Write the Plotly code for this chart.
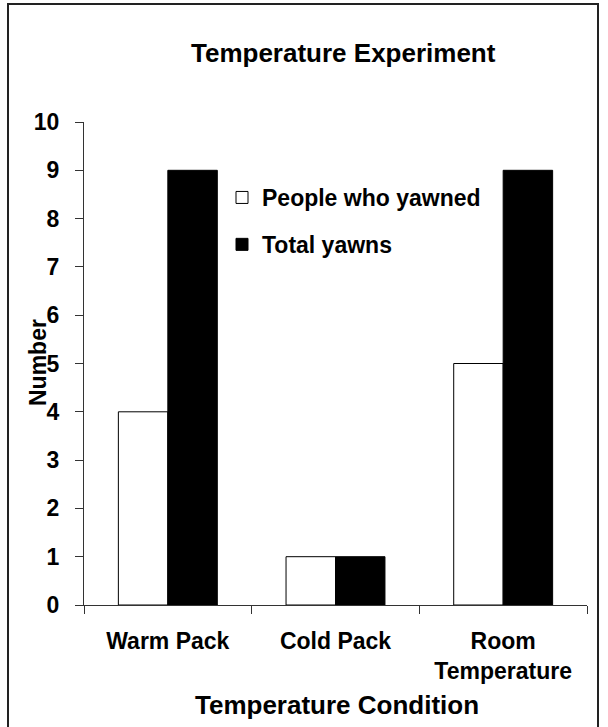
import plotly.graph_objects as go

categories = ["Warm Pack", "Cold Pack", "Room<br>Temperature"]
people_who_yawned = [4, 1, 5]
total_yawns = [9, 1, 9]
y_ticks = list(range(0, 11))

FONT = "Liberation Sans, Arial, sans-serif"
W, H = 608, 727
L, R, T, B = 84, 21, 122, 122
PW, PH = W - L - R, H - T - B


def px_x(px):
    return (px - L) / PW


def px_y(py):
    return (H - B - py) / PH


fig = go.Figure()
fig.add_trace(go.Bar(
    x=categories, y=people_who_yawned, name="People who yawned",
    marker=dict(color="white", line=dict(color="black", width=1)),
    legendgroup="a",
))
fig.add_trace(go.Bar(
    x=categories, y=total_yawns, name="Total yawns",
    marker=dict(color="black", line=dict(color="black", width=1)),
    legendgroup="b",
))

fig.update_layout(
    width=W, height=H,
    margin=dict(l=L, r=R, t=T, b=B, pad=0),
    paper_bgcolor="white", plot_bgcolor="white",
    barmode="group", bargap=0.41, bargroupgap=0,
    font=dict(family=FONT, size=23, color="black"),
    showlegend=True,
    legend=dict(
        x=px_x(222), y=px_y(176),
        xanchor="left", yanchor="top",
        bgcolor="rgba(0,0,0,0)", borderwidth=0,
        font=dict(family=FONT, size=23, color="black", weight="bold"),
        tracegroupgap=14, traceorder="grouped",
    ),
    xaxis=dict(
        showline=True, linecolor="#333333", linewidth=1,
        ticks="outside", tickson="boundaries", ticklen=8, tickcolor="#333333",
        tickfont=dict(family=FONT, size=23, color="black", weight="bold"),
        showgrid=False, zeroline=False, ticklabelstandoff=15,
    ),
    yaxis=dict(
        range=[0, 10], tickvals=y_ticks,
        showline=True, linecolor="#333333", linewidth=1,
        ticks="outside", ticklen=8, tickcolor="#333333",
        tickfont=dict(family=FONT, size=23, color="black", weight="bold"),
        showgrid=False, zeroline=False, ticklabelstandoff=11,
    ),
    annotations=[
        dict(text="<b>Temperature Experiment</b>", xref="paper", yref="paper",
             x=px_x(343), y=px_y(53),
             xanchor="center", yanchor="middle", showarrow=False,
             font=dict(family=FONT, size=26, color="black")),
        dict(text="<b>Temperature Condition</b>", xref="paper", yref="paper",
             x=px_x(337), y=px_y(705),
             xanchor="center", yanchor="middle", showarrow=False,
             font=dict(family=FONT, size=26, color="black")),
        dict(text="<b>Number</b>", xref="paper", yref="paper",
             x=px_x(38), y=px_y(363), textangle=-90,
             xanchor="center", yanchor="middle", showarrow=False,
             font=dict(family=FONT, size=23, color="black")),
    ],
    shapes=[
        dict(type="rect", xref="paper", yref="paper",
             x0=px_x(8), x1=px_x(598), y0=px_y(735), y1=px_y(4),
             line=dict(color="#222222", width=2), fillcolor="rgba(0,0,0,0)", layer="above"),
    ],
)

fig.write_html(
    "out.html",
    config={"displayModeBar": False},
    post_script="document.body.style.margin='0';document.body.style.padding='0';document.body.style.overflow='hidden';",
)
